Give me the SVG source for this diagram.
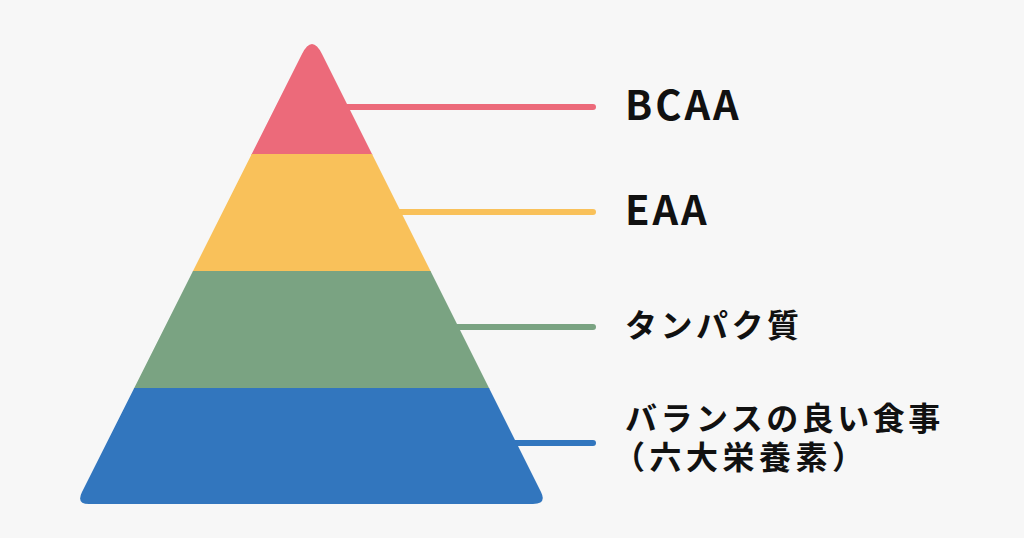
<svg xmlns="http://www.w3.org/2000/svg" width="1024" height="538" viewBox="0 0 1024 538">
<style>
.lbl{font-family:"Noto Sans CJK JP","Noto Sans",sans-serif;font-weight:700;fill:#111;}
.en{font-size:40px;letter-spacing:3px;}
.jp{font-size:32px;letter-spacing:3.5px;}
.jp2{font-size:32px;letter-spacing:4.5px;}
.ln{stroke-width:6;stroke-linecap:round;fill:none;}
</style>
<defs>
<clipPath id="pyr">
<path d="M302,54 Q312,34 322,54 L541,492 Q547,504 533,504 L89,504 Q76,504 82,492 Z"/>
</clipPath>
</defs>
<rect width="1024" height="538" fill="#F7F7F7"/>
<g id="connectors">
<line class="ln" x1="330" y1="107" x2="593" y2="107" stroke="#EC6A7A"/>
<line class="ln" x1="380" y1="212" x2="593" y2="212" stroke="#F9C15A"/>
<line class="ln" x1="440" y1="327" x2="593" y2="327" stroke="#7AA382"/>
<line class="ln" x1="500" y1="443" x2="593" y2="443" stroke="#3276BE"/>
</g>
<g id="pyramid" clip-path="url(#pyr)">
<g id="layer-bcaa"><rect x="0" y="0" width="1024" height="155" fill="#EC6A7A"/></g>
<g id="layer-eaa"><rect x="0" y="154" width="1024" height="118" fill="#F9C15A"/></g>
<g id="layer-protein"><rect x="0" y="271" width="1024" height="118" fill="#7AA382"/></g>
<g id="layer-diet"><rect x="0" y="388" width="1024" height="120" fill="#3276BE"/></g>
</g>
<g id="label-bcaa"><text class="lbl en" x="625" y="120">BCAA</text></g>
<g id="label-eaa"><text class="lbl en" x="625" y="225">EAA</text></g>
<g id="label-protein"><text class="lbl jp" x="625" y="337">タンパク質</text></g>
<g id="label-diet"><text class="lbl"><tspan class="jp" x="625" y="430">バランスの良い食事</tspan><tspan class="jp2" x="613" y="469">（六大栄養素）</tspan></text></g>
</svg>
